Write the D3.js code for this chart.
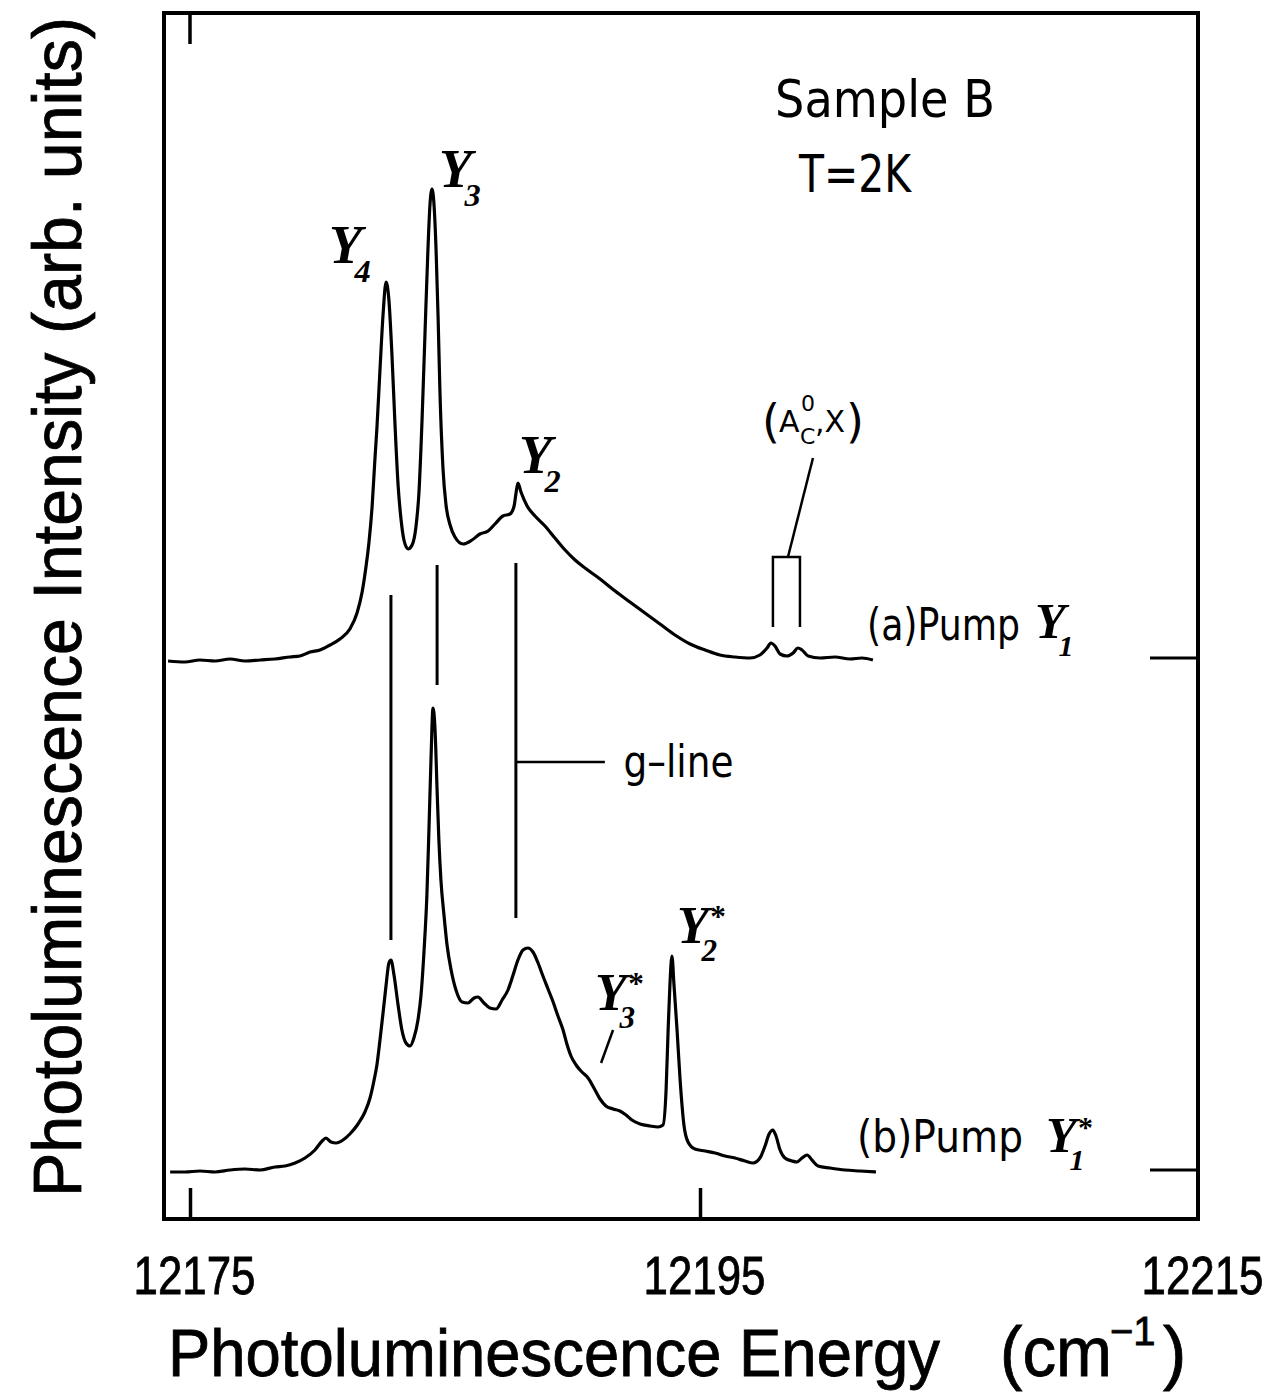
<!DOCTYPE html>
<html><head><meta charset="utf-8">
<script src="https://cdn.jsdelivr.net/npm/d3@7"></script>
<style>body{margin:0;background:#fff}svg{display:block}</style>
</head><body>
<svg id="chart" width="1287" height="1395"></svg>
<script>
// ---- data (energy in cm^-1, intensity in arb. units) ----
const energyA = [12174.14,12174.80,12175.39,12175.98,12176.57,12177.16,12177.75,12178.33,12178.92,12179.31,12179.71,12180.10,12180.49,12180.88,12181.27,12181.55,12181.75,12181.90,12182.02,12182.14,12182.25,12182.33,12182.45,12182.57,12182.69,12182.80,12182.92,12183.04,12183.16,12183.27,12183.39,12183.55,12183.71,12183.86,12183.98,12184.10,12184.22,12184.33,12184.41,12184.49,12184.57,12184.65,12184.73,12184.80,12184.92,12185.04,12185.20,12185.39,12185.71,12186.06,12186.37,12186.69,12186.96,12187.27,12187.55,12187.71,12187.78,12187.86,12187.98,12188.22,12188.53,12188.92,12189.31,12189.71,12190.10,12190.49,12191.08,12191.67,12192.25,12192.84,12193.43,12194.02,12194.61,12195.20,12195.78,12196.37,12196.96,12197.35,12197.63,12197.78,12197.94,12198.14,12198.41,12198.65,12198.84,12199.00,12199.24,12199.71,12200.29,12200.88,12201.35,12201.78];
const intensityA = [-0.1,-0.2,0,-0.1,0.1,-0.1,0,0.1,0.3,0.4,0.8,1.0,1.5,2.1,3.1,4.7,6.8,9.3,11.8,15.3,20.0,23.2,29.0,34.5,37.8,36.0,30.5,23.5,17.5,14.2,12.0,11.1,11.5,13.3,16.8,24.0,33.0,41.0,45.5,47.1,45.5,41.0,34.2,27.0,19.2,15.5,13.5,12.3,11.6,12.0,12.6,12.9,13.6,14.4,14.6,15.4,16.6,17.7,16.8,15.4,14.4,13.4,12.2,11.0,10.0,9.2,8.1,6.9,5.8,4.7,3.6,2.5,1.6,1.0,0.5,0.3,0.2,0.5,1.2,1.7,1.4,0.6,0.4,0.7,1.2,1.0,0.4,0.2,0.3,0.1,0.2,0];
const energyB = [12174.22,12174.80,12175.39,12175.98,12176.57,12177.16,12177.75,12178.33,12178.73,12179.12,12179.51,12179.90,12180.18,12180.33,12180.53,12180.73,12181.00,12181.27,12181.59,12181.86,12182.06,12182.22,12182.33,12182.45,12182.57,12182.69,12182.80,12182.88,12183.00,12183.16,12183.31,12183.47,12183.63,12183.78,12183.94,12184.06,12184.18,12184.29,12184.37,12184.45,12184.53,12184.61,12184.69,12184.76,12184.84,12184.96,12185.08,12185.24,12185.43,12185.67,12185.90,12186.14,12186.29,12186.53,12186.76,12187.00,12187.24,12187.47,12187.67,12187.86,12188.06,12188.25,12188.45,12188.65,12188.84,12189.04,12189.24,12189.43,12189.63,12189.78,12189.94,12190.14,12190.37,12190.61,12190.84,12191.08,12191.31,12191.59,12191.86,12192.10,12192.33,12192.65,12193.04,12193.35,12193.55,12193.67,12193.75,12193.82,12193.90,12193.98,12194.10,12194.22,12194.37,12194.53,12194.80,12195.20,12195.59,12195.98,12196.37,12196.76,12197.08,12197.35,12197.55,12197.71,12197.86,12197.98,12198.14,12198.33,12198.61,12198.80,12199.00,12199.20,12199.39,12199.63,12200.10,12200.69,12201.27,12201.90];
const intensityB = [0,0,0.1,0,0.2,0.3,0.2,0.5,0.6,0.9,1.4,2.2,3.1,3.4,3.0,2.9,3.2,3.8,4.8,6.0,7.4,9.2,10.7,13.2,15.9,18.7,20.9,21.2,19.7,16.7,14.2,12.9,12.6,13.4,15.2,17.7,22.2,27.7,34.2,41.2,46.4,44.2,38.2,33.2,29.2,25.7,22.7,20.2,18.2,17.0,16.9,17.4,17.5,16.9,16.4,16.3,17.2,18.2,19.7,21.2,22.2,22.4,22.0,20.9,19.6,18.3,17.0,15.6,14.2,12.8,11.6,10.7,10.0,9.4,8.4,7.3,6.6,6.3,6.1,5.7,5.2,4.8,4.6,4.5,4.7,8.2,14.2,18.7,21.6,18.7,14.2,9.2,4.7,3.0,2.3,2.1,1.9,1.6,1.4,1.1,0.9,1.4,2.6,3.8,4.2,3.6,2.2,1.4,1.1,1.0,1.4,1.7,1.2,0.6,0.4,0.2,0.1,0];
const offsetA = 51.2;   // vertical offset of spectrum (a)
const offsetB = 0;      // vertical offset of spectrum (b)
const xTicks = [12175, 12195, 12215];
const xTickLabels = ["12175", "12195", "12215"];
// vertical guide lines linking peaks of (a) and (b): energy, bottom, top (plot units)
const guideEnergy = [12182.88, 12184.69, 12187.78];
const guideBottom = [23.2, 48.7, 25.4];
const guideTop = [57.7, 60.7, 60.9];

// ---- layout ----
const svg = d3.select("#chart");
const frame = {left: 164, right: 1198, top: 13, bottom: 1219};
const x = d3.scaleLinear().domain([12175, 12195]).range([190, 700]);
const y = d3.scaleLinear().domain([0, 51.2]).range([1172, 660]);
const INK = "#000";

const sans = "'Liberation Sans', Arial, sans-serif";
const round = "'DejaVu Sans', sans-serif";
const serif = "'Liberation Serif', 'Times New Roman', serif";

// frame
svg.append("rect").attr("x", frame.left).attr("y", frame.top)
  .attr("width", frame.right - frame.left).attr("height", frame.bottom - frame.top)
  .attr("fill", "none").attr("stroke", INK).attr("stroke-width", 4);

// bottom axis (ticks pointing inward)
const axis = d3.axisBottom(x).tickValues(xTicks).tickFormat((d, i) => xTickLabels[i])
  .tickSizeInner(-31).tickSizeOuter(0).tickPadding(37);
const gx = svg.append("g").attr("transform", `translate(0,${frame.bottom})`).call(axis);
gx.select(".domain").remove();
gx.selectAll(".tick line").attr("stroke", INK).attr("stroke-width", 3.5)
  .filter(d => x(d) > frame.right).remove();
gx.selectAll(".tick text").attr("fill", INK).attr("font-family", sans)
  .attr("font-size", 54).attr("textLength", 122).attr("lengthAdjust", "spacingAndGlyphs")
  .attr("stroke", INK).attr("stroke-width", 0.8)
  .attr("dx", d => x(d) > frame.right ? -8 : 4);

// top tick
svg.append("line").attr("x1", x(12175)).attr("x2", x(12175))
  .attr("y1", frame.top).attr("y2", frame.top + 31).attr("stroke", INK).attr("stroke-width", 3.5);
// right ticks at the baselines
[offsetA, offsetB].forEach(o => {
  svg.append("line").attr("x1", frame.right - 48).attr("x2", frame.right)
    .attr("y1", y(o) - 2).attr("y2", y(o) - 2).attr("stroke", INK).attr("stroke-width", 3);
});

// spectra
const line = d3.line().x(d => x(d[0])).y(d => y(d[1])).curve(d3.curveMonotoneX);
const specA = energyA.map((e, i) => [e, intensityA[i] + offsetA]);
const specB = energyB.map((e, i) => [e, intensityB[i] + offsetB]);
[specA, specB].forEach(s => {
  svg.append("path").datum(s).attr("d", line).attr("fill", "none")
    .attr("stroke", INK).attr("stroke-width", 3.2).attr("stroke-linejoin", "round");
});

// guide lines
guideEnergy.forEach((e, i) => {
  svg.append("line").attr("x1", x(e)).attr("x2", x(e))
    .attr("y1", y(guideBottom[i])).attr("y2", y(guideTop[i]))
    .attr("stroke", INK).attr("stroke-width", 3);
});
// g-line pointer
svg.append("line").attr("x1", x(12187.78)).attr("x2", x(12191.27))
  .attr("y1", y(41.0)).attr("y2", y(41.0)).attr("stroke", INK).attr("stroke-width", 2.5);
svg.append("text").attr("x", x(12192.0)).attr("y", y(41.0) + 15)
  .attr("font-family", round).attr("font-size", 44).attr("textLength", 110)
  .attr("lengthAdjust", "spacingAndGlyphs").text("g–line");

// (A_C^0, X) bracket
const bx0 = x(12197.86), bx1 = x(12198.92), byTop = y(offsetA + 10.3), byBot = y(offsetA + 3.3);
svg.append("path").attr("d", `M${bx0},${byBot}V${byTop}H${bx1}V${byBot}`)
  .attr("fill", "none").attr("stroke", INK).attr("stroke-width", 2.5);
svg.append("line").attr("x1", x(12198.45)).attr("y1", byTop)
  .attr("x2", x(12199.43)).attr("y2", y(offsetA + 20.2)).attr("stroke", INK).attr("stroke-width", 2.5);
const ac = svg.append("text").attr("font-family", round).attr("fill", INK).attr("y", 436);
ac.append("tspan").attr("x", 762).attr("y", 437).attr("font-size", 46).text("(");
ac.append("tspan").attr("x", 779).attr("y", 432).attr("font-size", 30).text("A");
ac.append("tspan").attr("x", 801).attr("y", 411).attr("font-size", 22).text("0");
ac.append("tspan").attr("x", 800).attr("y", 444).attr("font-size", 22).text("C");
ac.append("tspan").attr("x", 815).attr("y", 432).attr("font-size", 30).text(",X");
ac.append("tspan").attr("x", 846).attr("y", 437).attr("font-size", 46).text(")");
// Y3* pointer
svg.append("line").attr("x1", x(12191.59)).attr("y1", y(14.2))
  .attr("x2", x(12191.12)).attr("y2", y(10.9)).attr("stroke", INK).attr("stroke-width", 2.5);

// peak labels (italic Y with subscripts / stars) as a single text element
function ylab(px, py, sub, star, size) {
  const t = svg.append("text").attr("font-family", serif).attr("font-style", "italic")
    .attr("font-weight", "bold").attr("fill", INK);
  t.append("tspan").attr("x", px).attr("y", py).attr("font-size", size).text("Y");
  if (star) t.append("tspan").attr("x", px + size * 0.64).attr("y", py - size * 0.3)
    .attr("font-size", size * 0.6).attr("font-style", "normal").text("*");
  t.append("tspan").attr("x", px + size * 0.47).attr("y", py + size * 0.35)
    .attr("font-size", size * 0.6).text(sub);
}
ylab(329, 263, "4", false, 54);
ylab(439, 187, "3", false, 54);
ylab(519, 473, "2", false, 54);
ylab(677, 943, "2", true, 52);
ylab(595, 1010, "3", true, 52);

// series labels
const lab = svg.append("g").attr("font-family", round).attr("fill", INK);
lab.append("text").attr("x", 867).attr("y", 640).attr("font-size", 44)
  .attr("textLength", 153).attr("lengthAdjust", "spacingAndGlyphs").text("(a)Pump");
lab.append("text").attr("x", 857).attr("y", 1152).attr("font-size", 44)
  .attr("textLength", 166).attr("lengthAdjust", "spacingAndGlyphs").text("(b)Pump");
ylab(1035, 638, "1", false, 50);
ylab(1046, 1152, "1", true, 50);

// sample info
lab.append("text").attr("x", 775).attr("y", 117).attr("font-size", 52)
  .attr("textLength", 220).attr("lengthAdjust", "spacingAndGlyphs").text("Sample B");
lab.append("text").attr("x", 799).attr("y", 192).attr("font-size", 52)
  .attr("textLength", 112).attr("lengthAdjust", "spacingAndGlyphs").text("T=2K");

// axis titles
svg.append("text").attr("transform", "translate(81,607) rotate(-90)")
  .attr("text-anchor", "middle").attr("font-family", sans).attr("font-size", 68)
  .attr("textLength", 1180).attr("lengthAdjust", "spacingAndGlyphs")
  .attr("stroke", INK).attr("stroke-width", 0.8)
  .text("Photoluminescence Intensity (arb. units)");
const xt = svg.append("g").attr("font-family", sans).attr("fill", INK)
  .attr("stroke", INK).attr("stroke-width", 0.8);
xt.append("text").attr("x", 168).attr("y", 1376).attr("font-size", 66)
  .attr("textLength", 772).attr("lengthAdjust", "spacingAndGlyphs").text("Photoluminescence Energy");
xt.append("text").attr("x", 1000).attr("y", 1376).attr("font-size", 70)
  .attr("textLength", 112).attr("lengthAdjust", "spacingAndGlyphs").text("(cm");
xt.append("text").attr("x", 1110).attr("y", 1345).attr("font-size", 40).text("−1");
xt.append("text").attr("x", 1163).attr("y", 1376).attr("font-size", 70).text(")");
</script>
</body></html>
